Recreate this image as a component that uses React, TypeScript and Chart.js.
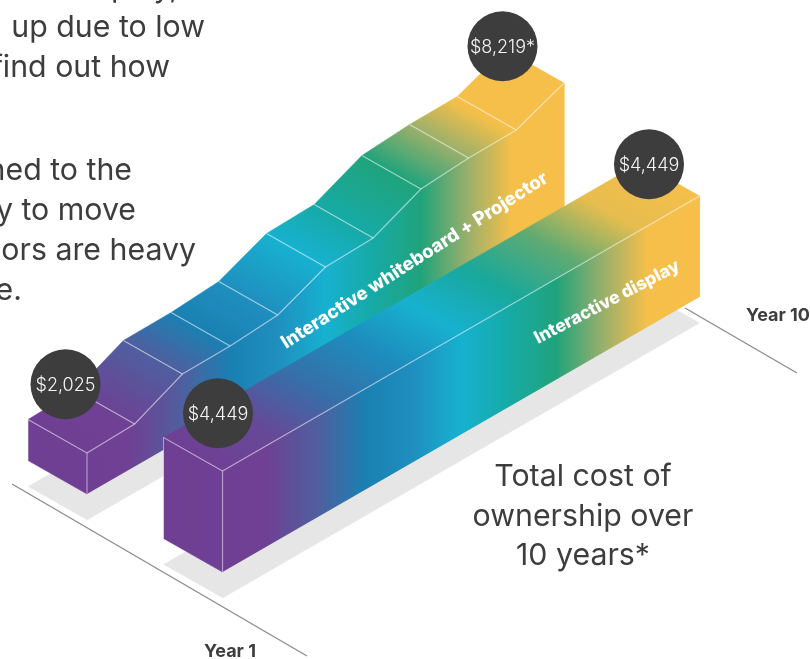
import React, { useEffect, useRef } from "react";
import { Chart, registerables } from "chart.js";

Chart.register(...registerables);

// Cost of each product at the end of each year mark.
const whiteboardYears = [0, 1, 2, 3, 4, 5, 6, 7, 8, 9, 10];
const whiteboardCosts = [2025, 2085, 2995, 3015, 3156, 3985, 4045, 5688, 6065, 6118, 8219];
const displayYears = [0, 10];
const displayCosts = [4449, 4449];

const seriesNames = ["Interactive whiteboard + Projector", "Interactive display"];
const axisLabels = ["Year 1", "Year 10"];
const footnotedCosts = [8219];
const totalCostTitle = ["Total cost of", "ownership over", "10 years*"];
const bodyCopy = ["play,", "up due to low", "find out how", "ned to the", "y to move", "ors are heavy", "e."];

// Bar height is not proportional: it bends through these cost stops.
const costStops = [2025, 4449, 8219];
const heightStops = [41, 101, 136];

const ramp: [number, string][] = [
  [0, "#6f3f94"],
  [0.09, "#6f4094"],
  [0.2, "#4f5f9f"],
  [0.3, "#1a80b2"],
  [0.4, "#1f8fbf"],
  [0.5, "#17b1d0"],
  [0.6, "#16aaa6"],
  [0.7, "#20a37b"],
  [0.8, "#9bb06a"],
  [0.89, "#f5bf4a"],
  [1, "#f5bf4a"],
];

const TEXT = "#3d3d3d";
const EDGE = "rgba(255,255,255,0.5)";
const YEAR_VEC = { x: 47.7, y: -27.5 };
const DEPTH_VEC = { x: -59, y: -33.5 };
const SPAN = 477;
const FONT = "Inter, sans-serif";

type P = { x: number; y: number };

const costHeight = (cost: number) => {
  if (cost <= costStops[1]) {
    return heightStops[0] + ((cost - costStops[0]) / (costStops[1] - costStops[0])) * (heightStops[1] - heightStops[0]);
  }
  return heightStops[1] + ((cost - costStops[1]) / (costStops[2] - costStops[1])) * (heightStops[2] - heightStops[1]);
};

// Oblique projection of (year, height, depth) onto the chart's flat scales.
const project = (o: P, year: number, height: number, depth: number): P => ({
  x: o.x + YEAR_VEC.x * year + DEPTH_VEC.x * depth,
  y: o.y + YEAR_VEC.y * year + DEPTH_VEC.y * depth - height,
});

const hexRgb = (h: string) => [1, 3, 5].map((i) => parseInt(h.slice(i, i + 2), 16));

const rampColor = (t: number) => {
  const c = Math.min(1, Math.max(0, t));
  for (let i = 1; i < ramp.length; i++) {
    if (c <= ramp[i][0]) {
      const f = (c - ramp[i - 1][0]) / (ramp[i][0] - ramp[i - 1][0]);
      const a = hexRgb(ramp[i - 1][1]);
      const b = hexRgb(ramp[i][1]);
      return `rgb(${a.map((v, k) => Math.round(v + (b[k] - v) * f)).join(",")})`;
    }
  }
  return ramp[ramp.length - 1][1];
};

export default function App() {
  const ref = useRef<HTMLCanvasElement>(null);

  useEffect(() => {
    const canvas = ref.current!;
    const ctx = canvas.getContext("2d")!;
    const layers: any[] = [];

    const polygon = (pts: P[], color: any) =>
      layers.push({
        data: pts,
        showLine: true,
        fill: "shape",
        backgroundColor: color,
        borderColor: color,
        borderWidth: 0.5,
        pointRadius: 0,
        tension: 0,
      });
    const polyline = (pts: P[], color: string, width = 1.2) =>
      layers.push({
        data: pts,
        showLine: true,
        fill: false,
        borderColor: color,
        borderWidth: width,
        pointRadius: 0,
        tension: 0,
      });

    // Colour along a span of the front edge; bands run with the depth axis on top faces.
    const topGradient = (a: P, b: P, x0: number) => {
      const len = Math.hypot(DEPTH_VEC.x, DEPTH_VEC.y);
      const nx = -DEPTH_VEC.y / len;
      const ny = DEPTH_VEC.x / len;
      const d = (b.x - a.x) * nx + (b.y - a.y) * ny;
      const g = ctx.createLinearGradient(a.x, a.y, a.x + nx * d, a.y + ny * d);
      const t0 = (a.x - x0) / SPAN;
      const t1 = (b.x - x0) / SPAN;
      for (let i = 0; i <= 8; i++) g.addColorStop(i / 8, rampColor(t0 + ((t1 - t0) * i) / 8));
      return g;
    };
    const sideGradient = (x0: number) => {
      const g = ctx.createLinearGradient(x0, 0, x0 + SPAN, 0);
      ramp.forEach(([t, c]) => g.addColorStop(t, c));
      return g;
    };

    const drawBar = (o: P, years: number[], costs: number[]) => {
      const heights = costs.map(costHeight);
      const front = years.map((y, i) => project(o, y, heights[i], 0));
      const back = years.map((y, i) => project(o, y, heights[i], 1));
      const last = years[years.length - 1];
      polygon([project(o, 0, 0, 0), ...front, project(o, last, 0, 0)], sideGradient(o.x));
      for (let i = 0; i < front.length - 1; i++) {
        polygon([front[i], front[i + 1], back[i + 1], back[i]], topGradient(front[i], front[i + 1], o.x));
      }
      polygon([back[0], front[0], project(o, 0, 0, 0), project(o, 0, 0, 1)], ramp[0][1]);
      for (let i = 1; i < front.length - 1; i++) polyline([front[i], back[i]], EDGE);
      polyline(front, EDGE);
      polyline([back[0], front[0], project(o, 0, 0, 0)], "rgba(255,255,255,0.48)");
      polyline([back[0], project(o, 0, 0, 1)], "rgba(255,255,255,0.2)", 1);
    };

    const floorShadow = (o: P, last: number) => {
      const down = { x: o.x, y: o.y + 26 };
      polygon(
        [project(down, 0, 0, 0), project(down, last, 0, 0), project(down, last, 0, 1), project(down, 0, 0, 1)],
        "#e6e6e6",
      );
    };

    const whiteboardBase = { x: 87, y: 494 };
    const displayBase = { x: 222.5, y: 572 };

    floorShadow(whiteboardBase, 10);
    floorShadow(displayBase, 10);
    polyline(
      [{ x: 12, y: 484 }, { x: 307, y: 656 }],
      "#8b8b8b",
      1.3,
    );
    polyline(
      [{ x: 685, y: 308 }, { x: 797, y: 373 }],
      "#8b8b8b",
      1.3,
    );
    drawBar(whiteboardBase, whiteboardYears, whiteboardCosts);
    drawBar(displayBase, displayYears, displayCosts);

    // Badges float over the far edge of each bar's first and last year.
    const wbLast = whiteboardCosts.length - 1;
    const badges = [
      { c: whiteboardCosts[0], p: project(whiteboardBase, 0, costHeight(whiteboardCosts[0]), 0.5), dx: 8, dy: -52 },
      { c: whiteboardCosts[wbLast], p: project(whiteboardBase, 10, costHeight(whiteboardCosts[wbLast]), 0.5), dx: -32, dy: -20 },
      { c: displayCosts[0], p: project(displayBase, 0, costHeight(displayCosts[0]), 0.5), dx: 25, dy: -41 },
      { c: displayCosts[1], p: project(displayBase, 10, costHeight(displayCosts[1]), 0.5), dx: -21, dy: -15 },
    ].map((b) => ({ cost: b.c, x: b.p.x + b.dx, y: b.p.y + b.dy }));

    layers.push({
      data: badges.map((b) => ({ x: b.x, y: b.y })),
      showLine: false,
      pointRadius: 35,
      pointBackgroundColor: "#3d3d3d",
      pointBorderWidth: 0,
      clip: false,
    });

    const n = layers.length;
    layers.forEach((l, i) => (l.order = n - i));

    const textPlugin = {
      id: "chartText",
      afterDatasetsDraw(chart: any) {
        const c = chart.ctx;
        c.save();
        c.textBaseline = "alphabetic";

        c.fillStyle = TEXT;
        c.font = `400 30.3px ${FONT}`;
        c.textAlign = "right";
        const copyRight = [178, 205, 170, 132, 136, 196, 22];
        const copyBase = [-3, 37, 77, 180, 220, 260, 300];
        bodyCopy.forEach((s, i) => c.fillText(s, copyRight[i], copyBase[i]));

        c.textAlign = "center";
        const titleBase = [486, 526, 565];
        totalCostTitle.forEach((s, i) => c.fillText(s, 583, titleBase[i]));

        c.font = `700 18px ${FONT}`;
        c.fillText(axisLabels[0], 230, 657);
        c.textAlign = "right";
        c.fillText(axisLabels[1], 810, 321);

        c.textAlign = "center";
        c.textBaseline = "middle";
        c.fillStyle = "#f4f4f4";
        c.font = `300 18px ${FONT}`;
        badges.forEach((b) => {
          const star = footnotedCosts.includes(b.cost) ? "*" : "";
          c.fillText(`$${b.cost.toLocaleString("en-US")}${star}`, b.x, b.y + 1);
        });

        c.textBaseline = "alphabetic";
        c.textAlign = "left";
        c.fillStyle = "#ffffff";
        const drawSlanted = (s: string, x: number, y: number, size: number, deg: number) => {
          c.save();
          c.translate(x, y);
          c.rotate((deg * Math.PI) / 180);
          c.font = `800 ${size}px ${FONT}`;
          c.fillText(s, 0, 0);
          c.restore();
        };
        drawSlanted(seriesNames[0], 286, 349, 18.5, -32.5);
        drawSlanted(seriesNames[1], 538, 344, 17.6, -27.5);
        c.restore();
      },
    };

    const chart = new Chart(canvas, {
      type: "scatter",
      data: { datasets: layers },
      options: {
        animation: false,
        responsive: false,
        devicePixelRatio: 1,
        events: [],
        layout: { padding: 0, autoPadding: false },
        plugins: { legend: { display: false }, tooltip: { enabled: false } },
        scales: {
          x: { type: "linear", min: 0, max: 810, display: false },
          y: { type: "linear", min: 0, max: 659, reverse: true, display: false },
        },
      },
      plugins: [textPlugin],
    } as any);

    return () => chart.destroy();
  }, []);

  return (
    <div style={{ position: "fixed", left: 0, top: 0, width: 810, height: 659, background: "#fff" }}>
      <canvas ref={ref} width={810} height={659} style={{ display: "block" }} />
    </div>
  );
}
